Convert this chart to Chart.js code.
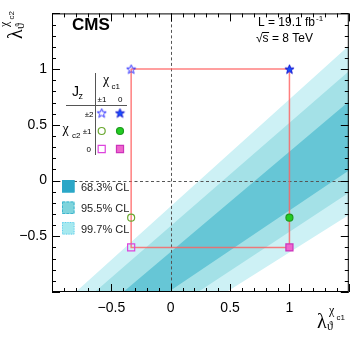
<!DOCTYPE html>
<html>
<head>
<meta charset="utf-8">
<script src="https://cdn.jsdelivr.net/npm/chart.js@4.4.1/dist/chart.umd.min.js"></script>
<style>
html, body { margin: 0; padding: 0; background: #fff; }
#c { display: block; }
</style>
</head>
<body>
<canvas id="c" width="355" height="338"></canvas>
<script>
// expected lambda values for pure states
const chic1Lambda = [-1 / 3, 1];        // Jz = ±1, 0
const chic2Lambda = [1, -1 / 3, -0.6];  // Jz = ±2, ±1, 0

// contour bands (99.7, 95.5, 68.3 %):
// upper/left edge and lower/right edge, given by x at y=-1 and y at x=1.5
const bandNames = ['99.7% CL', '95.5% CL', '68.3% CL'];
const upperEdgeX = [-0.80, -0.64, -0.40];
const upperEdgeY = [1.21, 0.98, 0.71];
const lowerEdgeX = [0.47, 0.23, -0.02];
const lowerEdgeY = [-0.31, -0.11, 0.09];

const xTicks = [-0.5, 0, 0.5, 1];
const yTicks = [-0.5, 0, 0.5, 1];
const axisMin = -1, axisMax = 1.5;

const bandColors = ['#cdf1f5', '#a4e1e7', '#66c6d6'];
const legendColors = ['#a6e9ef', '#7fd4dc', '#2ba7c7'];
const legendBorders = ['#66ccee', '#3fb5cf', '#2ba7c7'];

const SANS = '"Liberation Sans", Arial, sans-serif';
const SERIF = '"Liberation Serif", "DejaVu Serif", serif';

function starCanvas(fill, stroke) {
  const s = 11, c = document.createElement('canvas');
  c.width = c.height = s;
  const g = c.getContext('2d');
  const R = 4.8, r = 2.0, cx = 5.5, cy = 5.9;
  g.beginPath();
  for (let i = 0; i < 10; i++) {
    const a = -Math.PI / 2 + i * Math.PI / 5;
    const rr = i % 2 ? r : R;
    g.lineTo(cx + rr * Math.cos(a), cy + rr * Math.sin(a));
  }
  g.closePath();
  if (fill) { g.fillStyle = fill; g.fill(); }
  g.lineWidth = 1;
  g.strokeStyle = stroke;
  g.stroke();
  return c;
}
const starOpen = starCanvas(null, '#3030ff');
const starFull = starCanvas('#1450ff', '#1a1ad0');

// marker style per chi_c2 state, [open (chi_c1 Jz=±1), filled (Jz=0)]
const markerStyle = [
  { style: [starOpen, starFull], radius: [5, 5], fill: ['rgba(0,0,0,0)', '#1450ff'], border: ['#3030ff', '#1a1ad0'] },
  { style: ['circle', 'circle'], radius: [3.5, 3.5], fill: ['rgba(0,0,0,0)', '#22cc22'], border: ['#6aa830', '#1d9a1d'] },
  { style: ['rect', 'rect'], radius: [5, 5], fill: ['rgba(0,0,0,0)', '#ee66cc'], border: ['#dd44dd', '#cc33bb'] }
];

const fmt = v => (v < 0 ? '\u2212' : '') + Math.abs(v).toString();

const datasets = [];
bandNames.forEach((name, i) => {
  datasets.push({
    label: name,
    order: 10 - i,
    data: [
      { x: upperEdgeX[i], y: axisMin },
      { x: axisMax, y: upperEdgeY[i] },
      { x: axisMax, y: lowerEdgeY[i] },
      { x: lowerEdgeX[i], y: axisMin },
      { x: upperEdgeX[i], y: axisMin }
    ],
    showLine: true,
    fill: 'shape',
    backgroundColor: bandColors[i],
    borderWidth: 0,
    pointRadius: 0,
    tension: 0
  });
});

// lines joining the pure-state predictions
datasets.push({
  label: 'states',
  order: 2,
  data: [
    { x: chic1Lambda[0], y: chic2Lambda[0] },
    { x: chic1Lambda[1], y: chic2Lambda[0] },
    { x: chic1Lambda[1], y: chic2Lambda[2] },
    { x: chic1Lambda[0], y: chic2Lambda[2] },
    { x: chic1Lambda[0], y: chic2Lambda[0] }
  ],
  showLine: true,
  fill: false,
  borderColor: 'rgba(255,95,95,0.8)',
  borderWidth: 1.5,
  pointRadius: 0,
  tension: 0
});

chic2Lambda.forEach((y2, j) => {
  const m = markerStyle[j];
  datasets.push({
    label: 'chic2 ' + j,
    order: 1,
    data: chic1Lambda.map(x1 => ({ x: x1, y: y2 })),
    showLine: false,
    pointStyle: m.style,
    pointRadius: m.radius,
    pointBackgroundColor: m.fill,
    pointBorderColor: m.border,
    pointBorderWidth: 1.2
  });
});

const decorPlugin = {
  id: 'decor',
  afterDatasetDraw(chart, args) {
    if (args.index !== bandNames.length - 1) return;
    const { ctx, chartArea: a, scales: { x, y } } = chart;
    ctx.save();
    ctx.strokeStyle = '#555';
    ctx.lineWidth = 1;
    ctx.setLineDash([3, 2.5]);
    const x0 = Math.round(x.getPixelForValue(0)) + 0.5;
    const y0 = Math.round(y.getPixelForValue(0)) + 0.5;
    ctx.beginPath();
    ctx.moveTo(x0, a.top); ctx.lineTo(x0, a.bottom);
    ctx.moveTo(a.left, y0); ctx.lineTo(a.right, y0);
    ctx.stroke();
    ctx.restore();
  },
  afterDraw(chart) {
    const { ctx, chartArea: a, scales: { x, y } } = chart;
    ctx.save();
    // frame and inward ticks
    ctx.strokeStyle = '#000';
    ctx.lineWidth = 1;
    ctx.setLineDash([]);
    ctx.strokeRect(a.left + 0.5, a.top + 0.5, a.right - a.left - 1, a.bottom - a.top - 1);
    ctx.beginPath();
    for (let k = 0; k <= 25; k++) {
      const v = axisMin + k * 0.1;
      const len = k % 5 === 0 ? 8 : 4;
      const px = Math.round(x.getPixelForValue(v)) + 0.5;
      ctx.moveTo(px, a.bottom); ctx.lineTo(px, a.bottom - len);
      ctx.moveTo(px, a.top); ctx.lineTo(px, a.top + len);
      const py = Math.round(y.getPixelForValue(v)) + 0.5;
      ctx.moveTo(a.left, py); ctx.lineTo(a.left + len, py);
      ctx.moveTo(a.right, py); ctx.lineTo(a.right - len, py);
    }
    ctx.stroke();

    ctx.fillStyle = '#000';
    ctx.textBaseline = 'alphabetic';
    ctx.textAlign = 'left';
    ctx.font = 'bold 17px ' + SANS;
    ctx.fillText('CMS', 72, 30);

    ctx.font = '12px ' + SANS;
    ctx.fillText('L = 19.1 fb', 258, 26);
    const lw = ctx.measureText('L = 19.1 fb').width;
    ctx.font = '8px ' + SANS;
    ctx.fillText('-1', 258 + lw + 1, 21);
    ctx.font = '12px ' + SANS;
    ctx.fillText('\u221As = 8 TeV', 256, 42);
    const sq = ctx.measureText('\u221A').width;
    const sw = ctx.measureText('s').width;
    ctx.beginPath();
    ctx.moveTo(256 + sq - 0.5, 32.5); ctx.lineTo(256 + sq + sw + 0.5, 32.5);
    ctx.stroke();

    // J_z table legend
    ctx.strokeStyle = '#555';
    ctx.beginPath();
    ctx.moveTo(95.5, 73); ctx.lineTo(95.5, 155);
    ctx.moveTo(66, 105.5); ctx.lineTo(127, 105.5);
    ctx.stroke();
    ctx.font = '14px ' + SANS;
    ctx.fillText('J', 72, 96);
    ctx.font = '9px ' + SANS;
    ctx.fillText('z', 78.5, 99);
    ctx.font = '14px ' + SERIF;
    ctx.fillText('\u03C7', 103, 84);
    ctx.font = '8px ' + SANS;
    ctx.fillText('c1', 111.5, 88.5);
    ctx.fillText('\u00B11', 97.5, 102);
    ctx.fillText('0', 118, 102);
    ctx.font = '14px ' + SERIF;
    ctx.fillText('\u03C7', 62.5, 133);
    ctx.font = '8px ' + SANS;
    ctx.fillText('c2', 72, 138);
    ctx.textAlign = 'right';
    ctx.fillText('\u00B12', 93.5, 117);
    ctx.fillText('\u00B11', 91.5, 134);
    ctx.fillText('0', 91, 152);
    ctx.textAlign = 'left';
    const colX = [101.7, 120], rowY = [113, 131, 149];
    markerStyle.forEach((m, j) => {
      colX.forEach((cx, i) => {
        ctx.fillStyle = m.fill[i];
        ctx.strokeStyle = m.border[i];
        ctx.lineWidth = 1.2;
        Chart.helpers.drawPoint(ctx, { pointStyle: m.style[i], radius: m.radius[i], rotation: 0, borderWidth: 1.2 }, cx, rowY[j]);
      });
    });

    // CL legend
    const boxY = [222, 201.5, 180];
    const dash = [[1, 1.5], [2.5, 1.5], []];
    ctx.lineWidth = 1;
    bandNames.forEach((name, i) => {
      ctx.fillStyle = legendColors[i];
      ctx.fillRect(62, boxY[i], 12.5, 12.5);
      ctx.strokeStyle = legendBorders[i];
      ctx.setLineDash(dash[i]);
      ctx.strokeRect(62.5, boxY[i] + 0.5, 11.5, 11.5);
      ctx.setLineDash([]);
      ctx.fillStyle = '#222';
      ctx.font = '11px ' + SANS;
      ctx.fillText(name, 81, boxY[i] + 10.5);
    });

    // axis titles
    const title = (sub) => {
      ctx.fillStyle = '#000';
      ctx.font = '20px ' + SERIF;
      ctx.fillText('\u03BB', 0, 0);
      ctx.font = '12px ' + SERIF;
      ctx.fillText('\u03D1', 10, 2);
      ctx.fillText('\u03C7', 12, -14);
      ctx.font = '8px ' + SANS;
      ctx.fillText(sub, 19.5, -8);
    };
    ctx.save();
    ctx.translate(317, 328);
    title('c1');
    ctx.restore();
    ctx.save();
    ctx.translate(22, 39);
    ctx.rotate(-Math.PI / 2);
    title('c2');
    ctx.restore();
    ctx.restore();
  }
};

const axisCommon = {
  type: 'linear',
  min: axisMin,
  max: axisMax,
  grid: { display: false, drawTicks: false },
  border: { display: false },
  ticks: { color: '#000', font: { family: SANS, size: 14 }, padding: 5, callback: v => fmt(v) }
};

new Chart(document.getElementById('c'), {
  type: 'scatter',
  data: { datasets },
  options: {
    responsive: false,
    animation: false,
    devicePixelRatio: 1,
    layout: { padding: { top: 3, right: 2, left: 0, bottom: 0 } },
    plugins: { legend: { display: false }, tooltip: { enabled: false } },
    scales: {
      x: Object.assign({}, axisCommon, {
        ticks: Object.assign({}, axisCommon.ticks, { padding: 8 }),
        afterBuildTicks: s => { s.ticks = xTicks.map(v => ({ value: v })); },
        afterFit: s => { s.height = 46; }
      }),
      y: Object.assign({}, axisCommon, {
        afterBuildTicks: s => { s.ticks = yTicks.map(v => ({ value: v })); },
        afterFit: s => { s.width = 52; }
      })
    }
  },
  plugins: [decorPlugin]
});
</script>
</body>
</html>
